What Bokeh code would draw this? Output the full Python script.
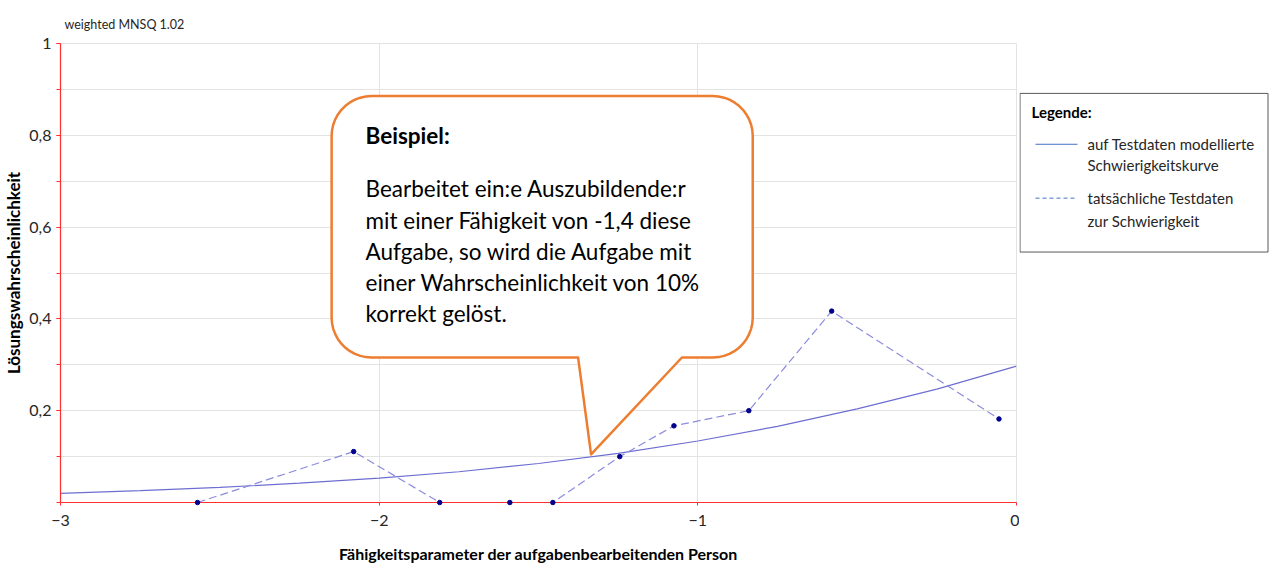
import numpy as np
from bokeh.plotting import figure
from bokeh.models import Range1d, FixedTicker, CustomJSTickFormatter
from bokeh.layouts import row
from bokeh.embed import file_html
from bokeh.resources import INLINE
from bokeh.core.properties import value

# ---------------- data ----------------
title_text = "weighted MNSQ 1.02"
x_label = "Fähigkeitsparameter der aufgabenbearbeitenden Person"
y_label = "Lösungswahrscheinlichkeit"

# modelled curve
model_x = [-3.0, -2.75, -2.5, -2.25, -2.0, -1.75, -1.5, -1.25, -1.0, -0.75, -0.5, -0.25, 0.0]
model_p = [0.020, 0.026, 0.033, 0.042, 0.053, 0.067, 0.085, 0.107, 0.134, 0.166, 0.204, 0.247, 0.297]

# observed test data
obs_x = [-2.57, -2.08, -1.81, -1.59, -1.455, -1.245, -1.075, -0.84, -0.58, -0.055]
obs_p = [0.0, 0.111, 0.0, 0.0, 0.0, 0.100, 0.167, 0.200, 0.417, 0.182]

x_ticks = [-3, -2, -1, 0]
x_grid = [-2, -1, 0]
y_ticks = [0.2, 0.4, 0.6, 0.8, 1.0]
y_minor = [0.0, 0.1, 0.2, 0.3, 0.4, 0.5, 0.6, 0.7, 0.8, 0.9, 1.0]

callout_anchor = (-1.335, 0.105)
callout_title = "Beispiel:"
callout_lines = [
    "Bearbeitet ein:e Auszubildende:r",
    "mit einer Fähigkeit von -1,4 diese",
    "Aufgabe, so wird die Aufgabe mit",
    "einer Wahrscheinlichkeit von 10%",
    "korrekt gelöst.",
]

legend_title = "Legende:"
legend_labels = [
    ["auf Testdaten modellierte", "Schwierigkeitskurve"],
    ["tatsächliche Testdaten", "zur Schwierigkeit"],
]

# ---------------- styling ----------------
FONT = "Lato"
TXT = "#262626"
RED = "#FF3030"
GRID = "#E3E3E3"
ORANGE = "#ED7D31"

FRAME_TOP, FRAME_H, FRAME_W = 43, 460, 958
X0, X1, Y0, Y1 = -3.0, 0.0, 0.0, 1.0

p = figure(width=1019, height=565, x_range=Range1d(X0, X1), y_range=Range1d(Y0, Y1),
           toolbar_location=None, output_backend="svg",
           min_border_left=58, min_border_right=3, min_border_top=FRAME_TOP, min_border_bottom=62)

p.title.text = title_text
p.title.text_font = FONT
p.title.text_font_size = "12.5px"
p.title.text_font_style = "normal"
p.title.text_color = TXT
p.title.align = "left"
p.title.offset = 4
p.title.standoff = 23

p.outline_line_color = GRID
p.background_fill_color = "white"

# axes
p.xaxis.ticker = FixedTicker(ticks=x_ticks)
p.yaxis.ticker = FixedTicker(ticks=y_ticks, minor_ticks=y_minor)
p.yaxis.formatter = CustomJSTickFormatter(code="return (tick == 1) ? '1' : tick.toFixed(1).replace('.', ',');")
for ax in (p.xaxis[0], p.yaxis[0]):
    ax.axis_line_color = RED
    ax.axis_line_width = 1.2
    ax.major_tick_line_color = RED
    ax.minor_tick_line_color = RED
    ax.major_tick_in = 0
    ax.minor_tick_in = 0
    ax.major_label_text_font = FONT
    ax.major_label_text_font_size = "16px"
    ax.major_label_text_color = TXT
    ax.axis_label_text_font = FONT
    ax.axis_label_text_font_style = "bold"
    ax.axis_label_text_color = "black"
p.xaxis.axis_label_text_font_size = "16px"
p.yaxis.axis_label_text_font_size = "17px"
p.xaxis.major_tick_out = 3
p.xaxis.minor_tick_out = 0
p.xaxis.major_label_standoff = 9
p.xaxis.axis_label = x_label
p.xaxis.axis_label_standoff = 15
p.yaxis.major_tick_out = 4
p.yaxis.minor_tick_out = 4
p.yaxis.major_label_standoff = 5
p.yaxis.axis_label = y_label
p.yaxis.axis_label_standoff = 2

p.xgrid.ticker = FixedTicker(ticks=x_grid)
p.ygrid.ticker = FixedTicker(ticks=y_minor)
p.xgrid.grid_line_color = GRID
p.ygrid.grid_line_color = GRID

# data lines
p.line(model_x, model_p, line_color="#6E6ED2", line_width=1.2)
p.line(obs_x, obs_p, line_color="#8C8CDE", line_width=1.2, line_dash="8 4")
p.scatter(obs_x, obs_p, size=4.5, marker="circle", fill_color="#00008B", line_color="#00008B",
          level="overlay")

# ---------------- callout ----------------
sx = (X1 - X0) / FRAME_W   # data per pixel
sy = (Y1 - Y0) / FRAME_H
# pixel offsets relative to tip (y down)
L, R, T, B, RAD = -260, 162, -359, -97, 40
BL, BR = -13, 91

def arc(cx, cy, a0, a1, n=12):
    a = np.linspace(a0, a1, n)
    return list(cx + RAD * np.cos(a)), list(cy + RAD * np.sin(a))

px, py = [BL], [B]
for cx, cy, a0, a1 in [(L + RAD, B - RAD, np.pi / 2, np.pi),
                       (L + RAD, T + RAD, np.pi, 1.5 * np.pi),
                       (R - RAD, T + RAD, 1.5 * np.pi, 2 * np.pi),
                       (R - RAD, B - RAD, 0, np.pi / 2)]:
    ax_, ay_ = arc(cx, cy, a0, a1)
    px += ax_
    py += ay_
px += [BR, 0, BL]
py += [B, 0, B]
cx_d = [callout_anchor[0] + v * sx for v in px]
cy_d = [callout_anchor[1] - v * sy for v in py]
p.patch(cx_d, cy_d, fill_color="white", line_color=ORANGE, line_width=2.5, line_join="round")

tx = callout_anchor[0] + (-226) * sx
p.text(x=[tx], y=[callout_anchor[1] - (-319) * sy], text=[callout_title],
       text_font=value(FONT), text_font_size="22.5px", text_font_style="bold",
       text_color="black", text_baseline="middle", text_align="left")
line_off = [-266, -234, -203, -172, -141]
p.text(x=[tx] * len(callout_lines), y=[callout_anchor[1] - v * sy for v in line_off],
       text=callout_lines, text_font=value(FONT), text_font_size="22.5px",
       text_color="black", text_baseline="middle", text_align="left")

# ---------------- legend panel ----------------
# its frame is aligned with the main frame; y range maps to page pixels (y down)
LW, LH = 250, 565
lg = figure(width=LW, height=LH, x_range=Range1d(0, LW),
            y_range=Range1d(FRAME_TOP + FRAME_H, FRAME_TOP),
            toolbar_location=None, output_backend="svg", min_border=0,
            min_border_top=FRAME_TOP, min_border_bottom=62,
            x_axis_type=None, y_axis_type=None)
lg.grid.visible = False
lg.outline_line_color = None
lg.quad(left=[0.5], right=[LW - 1.5], top=[93], bottom=[252],
        fill_color="white", line_color="#595959", line_width=1)
lg.text(x=[12], y=[112], text=[legend_title], text_font=value(FONT), text_font_size="15px",
        text_font_style="bold", text_color="black", text_baseline="middle")
lg.line([16, 58], [144, 144], line_color="#4472C4", line_width=1)
lg.line([16, 58], [198, 198], line_color="#4472C4", line_width=1, line_dash="4 3")
lab_y = [[144, 165], [198, 221]]
for labs, ys in zip(legend_labels, lab_y):
    lg.text(x=[68] * len(labs), y=ys, text=labs, text_font=value(FONT), text_font_size="15px",
            text_color=TXT, text_baseline="middle")

layout = row(p, lg, spacing=0)
open("out.html", "w").write(file_html(layout, INLINE))
